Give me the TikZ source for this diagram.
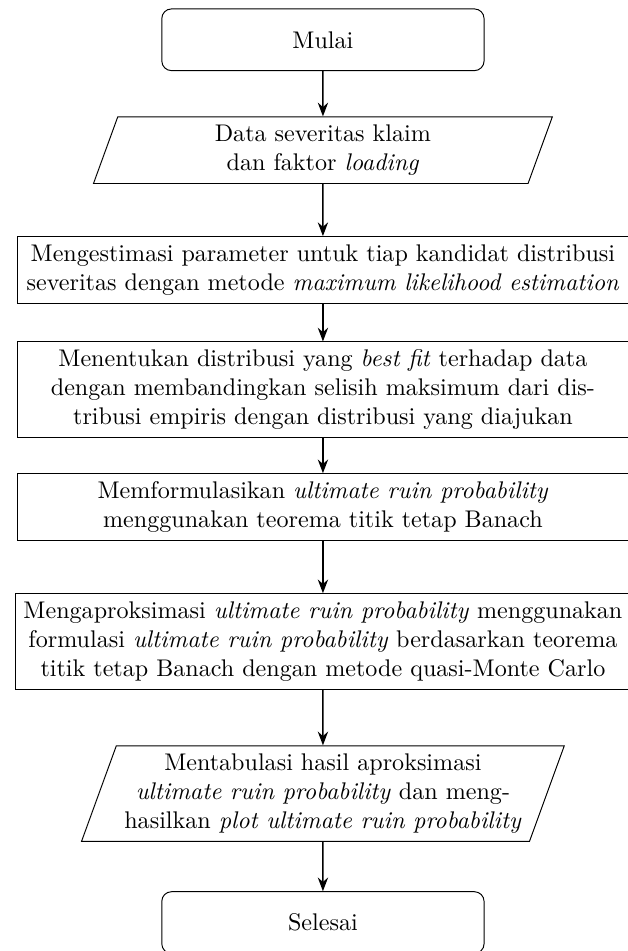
\documentclass[tikz,border=0pt]{standalone}
\usepackage{tikz}
\usetikzlibrary{positioning, arrows.meta, shapes.geometric}

\begin{document}
\begin{tikzpicture}[
      terminal/.style={draw, thin, rounded corners, minimum width=4.7cm, minimum height=0.9cm, text centered},
      iobox/.style={draw, thin, trapezium, trapezium left angle=70, trapezium right angle=110, align=center},
      procbox/.style={draw, thin, rectangle, minimum width=8.9cm, align=center},
      ->, >=Stealth, semithick
    ]
      \useasboundingbox (-4.71,0.58) rectangle (4.44,-13.29);

      \node[terminal] (mulai) {Mulai};
      \node[iobox, text width=5.75cm, below=0.66cm of mulai] (data) {Data severitas klaim\\dan faktor \textit{loading}};
      \node[procbox, below=0.76cm of data] (estimasi) {Mengestimasi parameter untuk tiap kandidat distribusi\\severitas dengan metode \textit{maximum likelihood estimation}};
      \node[procbox, below=0.55cm of estimasi] (bestfit) {Menentukan distribusi yang \textit{best fit} terhadap data\\dengan membandingkan selisih maksimum dari dis-\\tribusi empiris dengan distribusi yang diajukan};
      \node[procbox, below=0.51cm of bestfit] (formulasi) {Memformulasikan \textit{ultimate ruin probability}\\menggunakan teorema titik tetap Banach};
      \node[procbox, below=0.76cm of formulasi] (aproksimasi) {Mengaproksimasi \textit{ultimate ruin probability} menggunakan\\formulasi \textit{ultimate ruin probability} berdasarkan teorema\\titik tetap Banach dengan metode quasi-Monte Carlo};
      \node[iobox, below=0.81cm of aproksimasi] (tabulasi) {Mentabulasi hasil aproksimasi\\\textit{ultimate ruin probability} dan meng-\\hasilkan \textit{plot ultimate ruin probability}};
      \node[terminal, below=0.72cm of tabulasi] (selesai) {Selesai};

      \draw (mulai) -- (data);
      \draw (data) -- (estimasi);
      \draw (estimasi) -- (bestfit);
      \draw (bestfit) -- (formulasi);
      \draw (formulasi) -- (aproksimasi);
      \draw (aproksimasi) -- (tabulasi);
      \draw (tabulasi) -- (selesai);
    \end{tikzpicture}
\end{document}
